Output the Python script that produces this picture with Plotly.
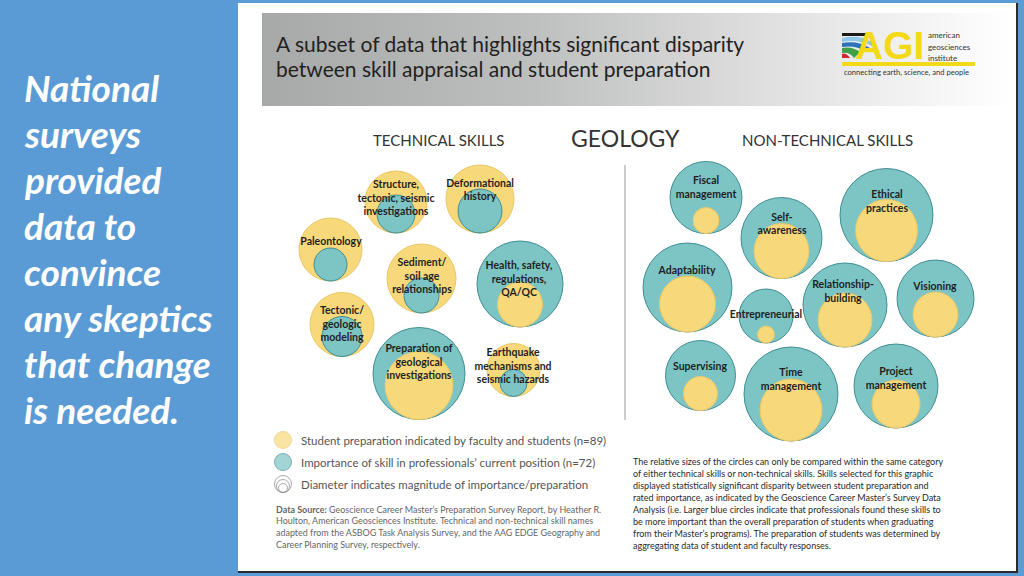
import plotly.graph_objects as go

# ---------------- data ----------------
tech_skills = ["Structure,<br>tectonic, seismic<br>investigations", "Deformational<br>history", "Paleontology",
               "Sediment/<br>soil age<br>relationships", "Health, safety,<br>regulations,<br>QA/QC",
               "Tectonic/<br>geologic<br>modeling", "Preparation of<br>geological<br>investigations",
               "Earthquake<br>mechanisms and<br>seismic hazards"]
tech_preparation = [62, 68, 63, 69, 45, 64, 68, 53]   # yellow circle diameter
tech_importance = [38, 44, 33, 35, 86, 40, 92, 27]    # blue circle diameter

nontech_skills = ["Fiscal<br>management", "Self-<br>awareness", "Ethical<br>practices", "Adaptability",
                  "Entrepreneurial", "Relationship-<br>building", "Visioning", "Supervising",
                  "Time<br>management", "Project<br>management"]
nontech_preparation = [26, 55, 62, 56, 17, 54, 45, 34, 62, 48]
nontech_importance = [72, 81, 93, 89, 54, 84, 77, 70, 94, 84]

# layout of the bubbles (pixel positions of the bigger circle's centre, label centre)
tech_cx = [396, 480, 330.5, 421.5, 520, 342, 419, 513.5]
tech_cy = [202, 199, 249.5, 278.5, 284, 324.5, 373.5, 370]
tech_lx = [396, 480, 331, 422, 519, 342, 419, 513]
tech_ly = [199, 191, 242, 277, 280, 325, 363, 367]

nontech_cx = [706, 781.5, 886.5, 687.5, 766, 845, 935.5, 700.5, 791, 896]
nontech_cy = [197.5, 238, 215, 287.5, 316, 305, 298.5, 375.5, 394, 386]
nontech_lx = [706, 782, 887, 687, 766, 843, 935, 700, 791, 896]
nontech_ly = [188.5, 225, 202.5, 271, 315, 292.5, 287, 367, 380.5, 379.5]

legend_items = ["Student preparation indicated by faculty and students (n=89)",
                "Importance of skill in professionals\u2019 current position (n=72)",
                "Diameter indicates magnitude of importance/preparation"]

side_lines = ["National", "surveys", "provided", "data to", "convince", "any skeptics", "that change", "is needed."]
title_lines = ["A subset of data that highlights significant disparity",
               "between skill appraisal and student preparation"]
source_lines = ["<b>Data Source:</b> Geoscience Career Master\u2019s Preparation Survey Report, by Heather R.",
                "Houlton, American Geosciences Institute. Technical and non-technical skill names",
                "adapted from the ASBOG Task Analysis Survey, and the AAG EDGE Geography and",
                "Career Planning Survey, respectively."]
note_lines = ["The relative sizes of the circles can only be compared within the same category",
              "of either technical skills or non-technical skills. Skills selected for this graphic",
              "displayed statistically significant disparity between student preparation and",
              "rated importance, as indicated by the Geoscience Career Master\u2019s Survey Data",
              "Analysis (i.e. Larger blue circles indicate that professionals found these skills to",
              "be more important than the overall preparation of students when graduating",
              "from their Master\u2019s programs). The preparation of students was determined by",
              "aggregating data of student and faculty responses."]

# ---------------- styles ----------------
YEL, YEL_LINE = "#F7D97C", "#E9C766"
BLU, BLU_LINE = "#7DC4C5", "#3F8E92"
SLIDE = "#5B9BD5"
FONT = "Lato, 'Open Sans', sans-serif"

fig = go.Figure()


def add_bubbles(cx, cy, prep, imp, names):
    big_x, big_y, big_s, big_c, big_l = [], [], [], [], []
    sm_x, sm_y, sm_s, sm_c, sm_l = [], [], [], [], []
    for x, y, p, i in zip(cx, cy, prep, imp):
        if p >= i:
            D, d, cD, lD, cd, ld = p, i, YEL, YEL_LINE, BLU, BLU_LINE
        else:
            D, d, cD, lD, cd, ld = i, p, BLU, BLU_LINE, YEL, YEL_LINE
        big_x.append(x); big_y.append(y); big_s.append(D); big_c.append(cD); big_l.append(lD)
        sm_x.append(x); sm_y.append(y + D / 2 - d / 2); sm_s.append(d); sm_c.append(cd); sm_l.append(ld)
    fig.add_trace(go.Scatter(x=big_x, y=big_y, mode="markers", hoverinfo="skip",
                             marker=dict(size=big_s, color=big_c, opacity=1,
                                         line=dict(color=big_l, width=1))))
    fig.add_trace(go.Scatter(x=sm_x, y=sm_y, mode="markers", hoverinfo="skip",
                             marker=dict(size=sm_s, color=sm_c, opacity=1,
                                         line=dict(color=sm_l, width=1))))


add_bubbles(tech_cx, tech_cy, tech_preparation, tech_importance, tech_skills)
add_bubbles(nontech_cx, nontech_cy, nontech_preparation, nontech_importance, nontech_skills)

fig.add_trace(go.Scatter(x=tech_lx + nontech_lx, y=tech_ly + nontech_ly, mode="text",
                         text=tech_skills + nontech_skills, textposition="middle center",
                         hoverinfo="skip",
                         textfont=dict(family=FONT, size=10.5, color="#1f1f1f", weight="bold")))

# legend icons
fig.add_trace(go.Scatter(x=[283, 283], y=[440, 462], mode="markers", hoverinfo="skip",
                         marker=dict(size=[17, 17], color=[YEL, BLU],
                                     line=dict(color=[YEL_LINE, BLU_LINE], width=1))))
fig.add_trace(go.Scatter(x=[283, 283, 283], y=[484, 486, 488], mode="markers", hoverinfo="skip",
                         marker=dict(size=[17, 13, 9], color="rgba(0,0,0,0)",
                                     line=dict(color="#8a8a8a", width=1))))

# header gradient band
fig.add_trace(go.Scatter(x=[262, 1012, 1012, 262, 262], y=[13, 13, 106, 106, 13], mode="lines",
                         fill="toself", hoverinfo="skip", line=dict(width=0),
                         fillgradient=dict(type="horizontal",
                                           colorscale=[[0, "#a7a9a9"], [0.35, "#bdbebe"],
                                                       [0.7, "#e2e2e2"], [1, "#ffffff"]])))

shapes = [
    dict(type="rect", x0=238, x1=1017, y0=3, y1=571, fillcolor="white", line=dict(width=0), layer="below"),
    dict(type="line", x0=1017, x1=1017, y0=3, y1=572, line=dict(color="#2b2b2b", width=2), layer="below"),
    dict(type="line", x0=238, x1=1018, y0=572, y1=572, line=dict(color="#2b2b2b", width=2), layer="below"),
    dict(type="line", x0=625, x1=625, y0=165, y1=420, line=dict(color="#9a9a9a", width=1)),
    # AGI logo pieces
    dict(type="rect", x0=842, x1=975, y0=62, y1=66, fillcolor="#F3D916", line=dict(width=0)),
    dict(type="rect", x0=842, x1=870, y0=33, y1=36, fillcolor="#1a1a1a", line=dict(width=0)),
    dict(type="path", path="M 842 38 Q 858 34 872 42 L 872 46 Q 858 39 842 42 Z", fillcolor="#8FC8E8", line=dict(width=0)),
    dict(type="path", path="M 842 43 Q 858 40 870 48 L 866 52 Q 856 45 842 47 Z", fillcolor="#2D73B8", line=dict(width=0)),
    dict(type="path", path="M 842 48 Q 852 46 860 52 L 854 58 Q 850 52 842 53 Z", fillcolor="#3FA046", line=dict(width=0)),
    dict(type="path", path="M 842 54 Q 846 52 850 58 L 842 58 Z", fillcolor="#D7262B", line=dict(width=0)),
]

ann = []
# side panel text
for i, t in enumerate(side_lines):
    ann.append(dict(x=22, y=87 + 46 * i, text=t, xanchor="left", yanchor="middle", showarrow=False,
                    font=dict(family=FONT, size=37, color="white", weight="bold", style="italic")))
# title
for i, t in enumerate(title_lines):
    ann.append(dict(x=274, y=43 + 25 * i, text=t, xanchor="left", yanchor="middle", showarrow=False,
                    font=dict(family=FONT, size=21, color="#222222")))
# logo text
ann.append(dict(x=889, y=45, text="<b>AGI</b>", xanchor="center", yanchor="middle", showarrow=False,
                font=dict(family="'Liberation Sans', Arial, sans-serif", size=39, color="#F3D916")))
for i, t in enumerate(["american", "geosciences", "institute"]):
    ann.append(dict(x=926, y=35 + 11.5 * i, text=t, xanchor="left", yanchor="middle", showarrow=False,
                    font=dict(family=FONT, size=8, color="#333333")))
ann.append(dict(x=842, y=72, text="connecting earth, science, and people", xanchor="left", yanchor="middle",
                showarrow=False, font=dict(family=FONT, size=7.6, color="#333333")))
# section headers
ann.append(dict(x=439, y=140, text="TECHNICAL SKILLS", xanchor="center", yanchor="middle", showarrow=False,
                font=dict(family=FONT, size=15, color="#333333")))
ann.append(dict(x=625, y=138, text="GEOLOGY", xanchor="center", yanchor="middle", showarrow=False,
                font=dict(family=FONT, size=23, color="#333333")))
ann.append(dict(x=827, y=140, text="NON-TECHNICAL SKILLS", xanchor="center", yanchor="middle", showarrow=False,
                font=dict(family=FONT, size=15, color="#333333")))
# legend text
for i, t in enumerate(legend_items):
    ann.append(dict(x=299, y=440 + 22 * i, text=t, xanchor="left", yanchor="middle", showarrow=False,
                    font=dict(family=FONT, size=11.5, color="#555555")))
# data source
for i, t in enumerate(source_lines):
    ann.append(dict(x=274, y=509 + 11.8 * i, text=t, xanchor="left", yanchor="middle", showarrow=False,
                    font=dict(family=FONT, size=8.95, color="#666666")))
# note
for i, t in enumerate(note_lines):
    ann.append(dict(x=631, y=461 + 12.1 * i, text=t, xanchor="left", yanchor="middle", showarrow=False,
                    font=dict(family=FONT, size=9.0, color="#2a2a2a")))

fig.update_layout(
    width=1024, height=576, margin=dict(l=0, r=0, t=0, b=0),
    paper_bgcolor=SLIDE, plot_bgcolor=SLIDE, showlegend=False,
    xaxis=dict(range=[0, 1024], visible=False, fixedrange=True),
    yaxis=dict(range=[576, 0], visible=False, fixedrange=True),
    shapes=shapes, annotations=ann,
)

fig.write_html("out.html", config={"displayModeBar": False},
               post_script="document.body.style.margin='0';document.body.style.overflow='hidden';")
